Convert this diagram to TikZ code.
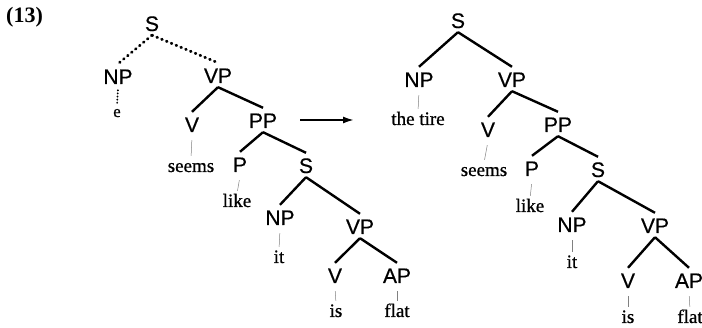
\documentclass[tikz,border=0pt]{standalone}
\usepackage{fontspec}
\setmainfont{Liberation Serif}
\setsansfont{Liberation Sans}
\newfontfamily\wordfont[FakeBold=0.8]{Liberation Serif}
\newfontfamily\catfont[FakeBold=0.5]{Liberation Sans}
\usetikzlibrary{arrows.meta,calc}
\begin{document}
\begin{tikzpicture}[x=1pt,y=-1pt,
  cat/.style={font=\catfont\fontsize{21}{21}\selectfont, inner sep=0pt, anchor=base, text height=20pt, text depth=4pt},
  word/.style={font=\wordfont\fontsize{19}{19}\selectfont, inner sep=0pt, anchor=base, text height=13pt, text depth=0pt},
  branch/.style={line width=2.4pt},
  dotbranch/.style={line width=2.8pt, line cap=round, dash pattern=on 0.8pt off 4.4pt},
  lex/.style={line width=0.5pt, black!50, shorten <=4pt, shorten >=3pt},
  dotlex/.style={line width=1.8pt, line cap=round, dash pattern=on 0.3pt off 2.8pt, shorten <=2pt, shorten >=2pt}]
\useasboundingbox (0,0) rectangle (702,328);
\node[font=\rmfamily\bfseries\fontsize{22}{22}\selectfont, anchor=base west, inner sep=0pt] (ex) at (6,23) {(13)};
% left tree
\node[cat] (s1) at (152,31) {S};
\node[cat] (np1) at (118,84) {NP};
\node[cat] (vp1) at (218,83) {VP};
\node[word, font=\wordfont\fontsize{17}{17}\selectfont, text height=11pt] (e1) at (117,117) {e};
\node[cat] (v1) at (192,132) {V};
\node[cat] (pp1) at (263,128) {PP};
\node[word] (seems1) at (191,172) {seems};
\node[cat] (p1) at (240,172) {P};
\node[cat] (s2) at (306,173) {S};
\node[word] (like1) at (237,207) {like};
\node[cat] (np2) at (280,225) {NP};
\node[cat] (vp2) at (360,234) {VP};
\node[word] (it1) at (279,263) {it};
\node[cat] (v2) at (335,283) {V};
\node[cat] (ap1) at (397,283) {AP};
\node[word] (is1) at (336,317) {is};
\node[word] (flat1) at (397,317) {flat};
\draw[dotbranch] (s1.south) -- (np1.north);
\draw[dotbranch] (s1.south) -- (vp1.north);
\draw[dotlex] (np1.south) -- (e1.north);
\draw[branch] (vp1.south) -- (v1.north);
\draw[branch] (vp1.south) -- (pp1.north);
\draw[lex] (v1.south) -- (seems1.north);
\draw[branch] (pp1.south) -- (p1.north);
\draw[branch] (pp1.south) -- (s2.north);
\draw[lex] (p1.south) -- (like1.north);
\draw[branch] (s2.south) -- (np2.north);
\draw[branch] (s2.south) -- (vp2.north);
\draw[lex] (np2.south) -- (it1.north);
\draw[branch] (vp2.south) -- (v2.north);
\draw[branch] (vp2.south) -- (ap1.north);
\draw[lex] (v2.south) -- (is1.north);
\draw[lex] (ap1.south) -- (flat1.north);
% arrow
\coordinate (a1) at (300,120);
\coordinate (a2) at (354,120);
\draw[line width=1.8pt, -{Latex[length=11pt,width=7pt]}] (a1) -- (a2);
% right tree
\node[cat] (s3) at (458,28) {S};
\node[cat] (np3) at (419,87) {NP};
\node[cat] (vp3) at (512,87) {VP};
\node[word] (tire) at (418,125) {the tire};
\node[cat] (v3) at (488,137) {V};
\node[cat] (pp3) at (558,132) {PP};
\node[word] (seems3) at (484,176) {seems};
\node[cat] (p3) at (532,176) {P};
\node[cat] (s4) at (598,177) {S};
\node[word] (like3) at (530,212) {like};
\node[cat] (np4) at (572,232) {NP};
\node[cat] (vp4) at (655,233) {VP};
\node[word] (it3) at (572,268) {it};
\node[cat] (v4) at (628,288) {V};
\node[cat] (ap3) at (689,288) {AP};
\node[word] (is3) at (628,323) {is};
\node[word] (flat3) at (690,323) {flat};
\draw[branch] (s3.south) -- (np3.north);
\draw[branch] (s3.south) -- (vp3.north);
\draw[lex] (np3.south) -- (tire.north);
\draw[branch] (vp3.south) -- (v3.north);
\draw[branch] (vp3.south) -- (pp3.north);
\draw[lex] (v3.south) -- (seems3.north);
\draw[branch] (pp3.south) -- (p3.north);
\draw[branch] (pp3.south) -- (s4.north);
\draw[lex] (p3.south) -- (like3.north);
\draw[branch] (s4.south) -- (np4.north);
\draw[branch] (s4.south) -- (vp4.north);
\draw[lex] (np4.south) -- (it3.north);
\draw[branch] (vp4.south) -- (v4.north);
\draw[branch] (vp4.south) -- (ap3.north);
\draw[lex] (v4.south) -- (is3.north);
\draw[lex] (ap3.south) -- (flat3.north);
\end{tikzpicture}
\end{document}
